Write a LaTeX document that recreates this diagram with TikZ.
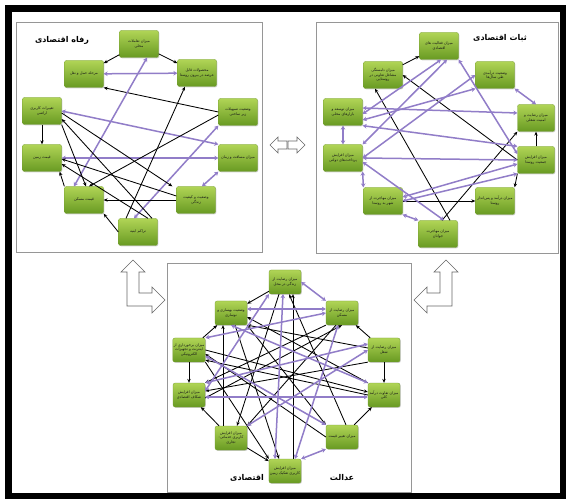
\documentclass[tikz,border=0pt]{standalone}
\usepackage{fontspec}
\newfontfamily\arabicfont[Script=Arabic]{DejaVu Sans}
\TeXXeTstate=1
\usetikzlibrary{arrows.meta,shadows}
\definecolor{purp}{RGB}{145,125,200}
\definecolor{gtop}{RGB}{176,212,86}
\definecolor{gbot}{RGB}{104,154,34}
\definecolor{gedge}{RGB}{118,158,52}
\definecolor{pedge}{RGB}{150,150,150}
\newcommand\prs[1]{\beginR #1\endR}
\begin{document}
\begin{tikzpicture}[x=1pt,y=-1pt,
  gbox/.style={rounded corners=2pt, minimum width=39pt, minimum height=27pt,
    inner sep=1pt, align=center, draw=gedge, line width=0.3pt,
    top color=gtop, bottom color=gbot,
    drop shadow={opacity=0.35, shadow xshift=0.8pt, shadow yshift=-0.8pt},
    font=\arabicfont\fontsize{3.7}{4.6}\selectfont, text=black!90},
  sbox/.style={gbox, minimum width=32pt, minimum height=24pt},
  panel/.style={draw=pedge, line width=0.7pt, fill=white},
  ttl/.style={font=\arabicfont\bfseries\fontsize{8}{9.5}\selectfont, inner sep=0pt},
  blk/.style={draw=black, line width=0.85pt, -{Stealth[length=4pt,width=3.4pt]}},
  pur/.style={draw=purp, line width=1.5pt, {Stealth[length=4pt,width=4.6pt]}-{Stealth[length=4pt,width=4.6pt]}},
  hollow/.style={draw=black!60, line width=0.6pt, fill=white, line join=miter}]
\useasboundingbox (0,0) rectangle (570,502);
\fill[white] (0,0) rectangle (570,502);
% outer frame
\draw[black, line width=6.5pt] (8.5,8.5) rectangle (563,496);
% panels
\draw[panel] (16,22) rectangle (262,252);
\draw[panel] (316,22) rectangle (558,253);
\draw[panel] (167,263) rectangle (411,492);

% hollow block arrows
\draw[hollow] (270,145) -- (278,137) -- (278,141) -- (287,141) -- (287,149) -- (278,149) -- (278,153) -- cycle;
\draw[hollow] (305,145) -- (297,137) -- (297,141) -- (288,141) -- (288,149) -- (297,149) -- (297,153) -- cycle;
\draw[hollow] (133,260) -- (145,272) -- (139,272) -- (139,293) -- (152,293) -- (152,287) -- (165,300) -- (152,313) -- (152,306) -- (127,306) -- (127,272) -- (121,272) -- cycle;
\draw[hollow] (446,260) -- (458,272) -- (452,272) -- (452,306) -- (427,306) -- (427,313) -- (414,300) -- (427,287) -- (427,293) -- (440,293) -- (440,272) -- (434,272) -- cycle;

% ---------------- top-left panel ----------------
\node[ttl] (t1) at (62,40) {\prs{رفاه اقتصادی}};
\node[gbox] (A) at (139,44) {\prs{میزان تعاملات}\\\prs{محلی}};
\node[gbox] (B) at (84,74) {\prs{مرحله حمل و نقل}};
\node[gbox] (C) at (197,73) {\prs{محصولات قابل}\\\prs{عرضه در بیرون روستا}};
\node[gbox] (D) at (238,112) {\prs{وضعیت تسهیلات}\\\prs{زیر ساختی}};
\node[gbox] (E) at (42,111) {\prs{تغییرات کاربری}\\\prs{اراضی}};
\node[gbox] (F) at (42,158) {\prs{قیمت زمین}};
\node[gbox] (G) at (238,158) {\prs{میزان مسافت و زمان}};
\node[gbox] (H) at (196,200) {\prs{وضعیت و کیفیت}\\\prs{زندگی}};
\node[gbox] (I) at (84,200) {\prs{قیمت مسکن}};
\node[gbox] (J) at (138,232) {\prs{تراکم ابنیه}};

\draw[blk] (A) -- (B);
\draw[blk] (A) -- (C);
\draw[pur] (B) -- (C);
\draw[blk] (D.west) -- (B.south east);
\draw[pur] (E.east) -- (G.north west);
\draw[blk] (E) -- (F);
\draw[pur] (F) -- (G);
\draw[pur] (G.south west) -- ([xshift=6pt]H.north);
\draw[pur] ([xshift=8pt]A.south) -- ([xshift=-10pt]I.north);
\draw[pur] ([xshift=-4pt]J.north) -- (D.south west);
\draw[blk] ([xshift=-12pt]J.north) -- ([xshift=-12pt]C.south);
\draw[blk] ([yshift=-3pt]D.west) -- ([xshift=5pt]I.north);
\draw[blk] ([yshift=-2pt]E.east) -- ([xshift=-4pt]H.north west);
\draw[blk] ([yshift=4pt]H.west) -- ([yshift=-1pt]F.east);
\draw[blk] (E.south east) -- ([xshift=2pt]I.north);
\draw[blk] ([xshift=14pt]J.north) -- ([yshift=-8pt]E.east);
\draw[blk] (I.north west) -- ([xshift=-2pt]F.south east);
\draw[blk] (J.west) -- (I.south east);
\draw[blk] (H) -- (I);
\draw[blk] ([xshift=10pt]J.north) -- ([yshift=-6pt]F.east);

% ---------------- top-right panel ----------------
\node[ttl] (t2) at (500,38) {\prs{ثبات اقتصادی}};
\node[gbox] (P1) at (439,46) {\prs{میزان فعالیت های}\\\prs{اقتصادی}};
\node[gbox] (P2) at (495,75) {\prs{وضعیت درآمدی}\\\prs{طی سال‌ها}};
\node[gbox] (P3) at (383,75) {\prs{میزان دلبستگی}\\\prs{مشاغل تعاونی در}\\\prs{روستایی}};
\node[gbox] (P4) at (343,112) {\prs{میزان توسعه و}\\\prs{بازارهای محلی}};
\node[gbox, minimum width=37pt] (P5) at (536,118) {\prs{میزان رضایت و}\\\prs{امنیت شغلی}};
\node[gbox] (P6) at (343,158) {\prs{میزان افزایش}\\\prs{پرداخت‌های دولتی}};
\node[gbox, minimum width=37pt] (P7) at (536,160) {\prs{میزان افزایش}\\\prs{جمعیت روستا}};
\node[gbox] (P8) at (383,201) {\prs{میزان مهاجرت از}\\\prs{شهر به روستا}};
\node[gbox] (P9) at (495,201) {\prs{میزان درآمد و پس‌انداز}\\\prs{روستا}};
\node[gbox] (P10) at (438,234) {\prs{میزان مهاجرت}\\\prs{جوانان}};

\draw[blk] (P3) -- (P1);
\draw[blk] (P7.west) -- (P3.east);
\draw[blk] ([xshift=12pt]P10.north) -- ([xshift=-8pt]P3.south);
\draw[blk] ([xshift=4pt]P10.north) -- (P5.south west);
\draw[blk] (P7) -- (P5);
\draw[blk] (P7.south west) -- (P9.north east);
\draw[blk] (P8) -- (P9);
\draw[pur] (P4) -- (P6);
\draw[pur] (P6.south east) -- (P8.north west);
\draw[pur] (P8.south east) -- (P10.north west);
\draw[pur] (P2.south east) -- (P5.north);
\draw[pur] ([yshift=4pt]P4.east) -- ([yshift=5pt]P5.west);
\draw[pur] (P6.east) -- (P7.west);
\draw[pur] (P4.south east) -- (P7.north west);
\draw[pur] ([yshift=-4pt]P6.east) -- ([xshift=6pt]P10.north);
\draw[pur] ([yshift=4pt]P8.east) -- ([yshift=-4pt]P7.west);
\draw[pur] (P8.east) -- (P7.south west);
\draw[pur] ([xshift=2pt]P1.south) -- ([yshift=-2pt]P4.east);
\draw[pur] ([xshift=8pt]P1.south) -- (P6.north east);
\draw[pur] (P2.south west) -- ([yshift=-8pt]P4.east);
\draw[pur] (P1.south east) -- ([yshift=6pt]P7.west);
\draw[pur] (P2.west) -- (P6.east);

% ---------------- bottom panel ----------------
\node[ttl] (t3a) at (342,478) {\prs{عدالت}};
\node[ttl] (t3b) at (247,478) {\prs{اقتصادی}};
\node[sbox] (b1) at (285,282) {\prs{میزان رضایت از}\\\prs{زندگی در محل}};
\node[sbox] (b2) at (231,313) {\prs{وضعیت بهسازی و}\\\prs{نوسازی}};
\node[sbox] (b3) at (342,313) {\prs{میزان رضایت از}\\\prs{مسکن}};
\node[sbox] (b4) at (189,350) {\prs{میزان برخورداری از}\\\prs{اینترنت و تجهیزات}\\\prs{الکترونیکی}};
\node[sbox] (b5) at (384,350) {\prs{میزان رضایت از}\\\prs{شغل}};
\node[sbox] (b6) at (189,395) {\prs{میزان افزایش}\\\prs{شکاف اقتصادی}};
\node[sbox] (b7) at (384,395) {\prs{میزان تفاوت درآمد}\\\prs{کلی}};
\node[sbox] (b8) at (231,438) {\prs{میزان افزایش}\\\prs{کاربری خدماتی-}\\\prs{تجاری}};
\node[sbox] (b9) at (342,437) {\prs{میزان تغییر قیمت}};
\node[sbox] (b10) at (285,471) {\prs{میزان افزایش}\\\prs{کاربری تفکیک زمین}};

\draw[blk] (b1) -- (b2);
\draw[blk] (b5) -- (b3);
\draw[blk] (b4) -- (b2);
\draw[blk] (b4) -- (b6);
\draw[blk] (b5) -- (b7);
\draw[blk] (b8) -- (b6);
\draw[blk] (b9) -- (b7);
\draw[blk] (b8) -- (b10);
\draw[blk] ([xshift=-6pt]b1.south) -- ([xshift=6pt]b8.north);
\draw[blk] ([xshift=4pt]b9.north) -- ([xshift=4pt]b1.south);
\draw[blk] (b2.south east) -- (b9.north west);
\draw[blk] ([xshift=4pt]b2.south) -- ([xshift=-6pt]b10.north);
\draw[blk] (b3.south west) -- (b6.north east);
\draw[blk] ([xshift=-6pt]b3.south) -- (b8.north east);
\draw[blk] (b4.east) -- ([yshift=3pt]b7.west);
\draw[blk] (b4.south east) -- (b10.north west);
\draw[blk] (b5.south west) -- ([yshift=4pt]b6.east);
\draw[blk] ([yshift=2pt]b5.west) -- (b2.south east);
\draw[blk] (b7.north west) -- ([yshift=-4pt]b2.east);
\draw[blk] (b9.west) -- ([yshift=-4pt]b4.east);
\draw[blk] ([xshift=8pt]b10.north) -- ([xshift=8pt]b1.south);
\draw[blk] ([xshift=-8pt]b8.north) -- ([xshift=-8pt]b2.south);
\draw[blk] ([yshift=-3pt]b6.east) -- (b3.south);
\draw[blk] (b7.west) -- ([yshift=2pt]b4.south east);
\draw[pur] (b1.east) -- (b3.north west);
\draw[pur] ([yshift=4pt]b2.east) -- ([yshift=4pt]b3.west);
\draw[pur] ([yshift=-2pt]b6.east) -- ([yshift=-2pt]b7.west);
\draw[pur] ([xshift=-4pt]b3.south) -- ([xshift=10pt]b10.north);
\draw[pur] ([yshift=-6pt]b4.east) -- (b9.north west);
\draw[pur] (b5.west) -- (b8.north east);
\draw[pur] (b3.west) -- (b4.north east);
\draw[pur] (b2.south) -- (b7.north west);
\draw[pur] (b1.south west) -- ([yshift=4pt]b6.east);
\draw[pur] (b9.south west) -- (b10.north east);
\draw[pur] ([xshift=-2pt]b1.south) -- ([xshift=-10pt]b10.north);
\draw[pur] ([yshift=6pt]b5.west) -- (b6.north east);
\end{tikzpicture}
\end{document}
